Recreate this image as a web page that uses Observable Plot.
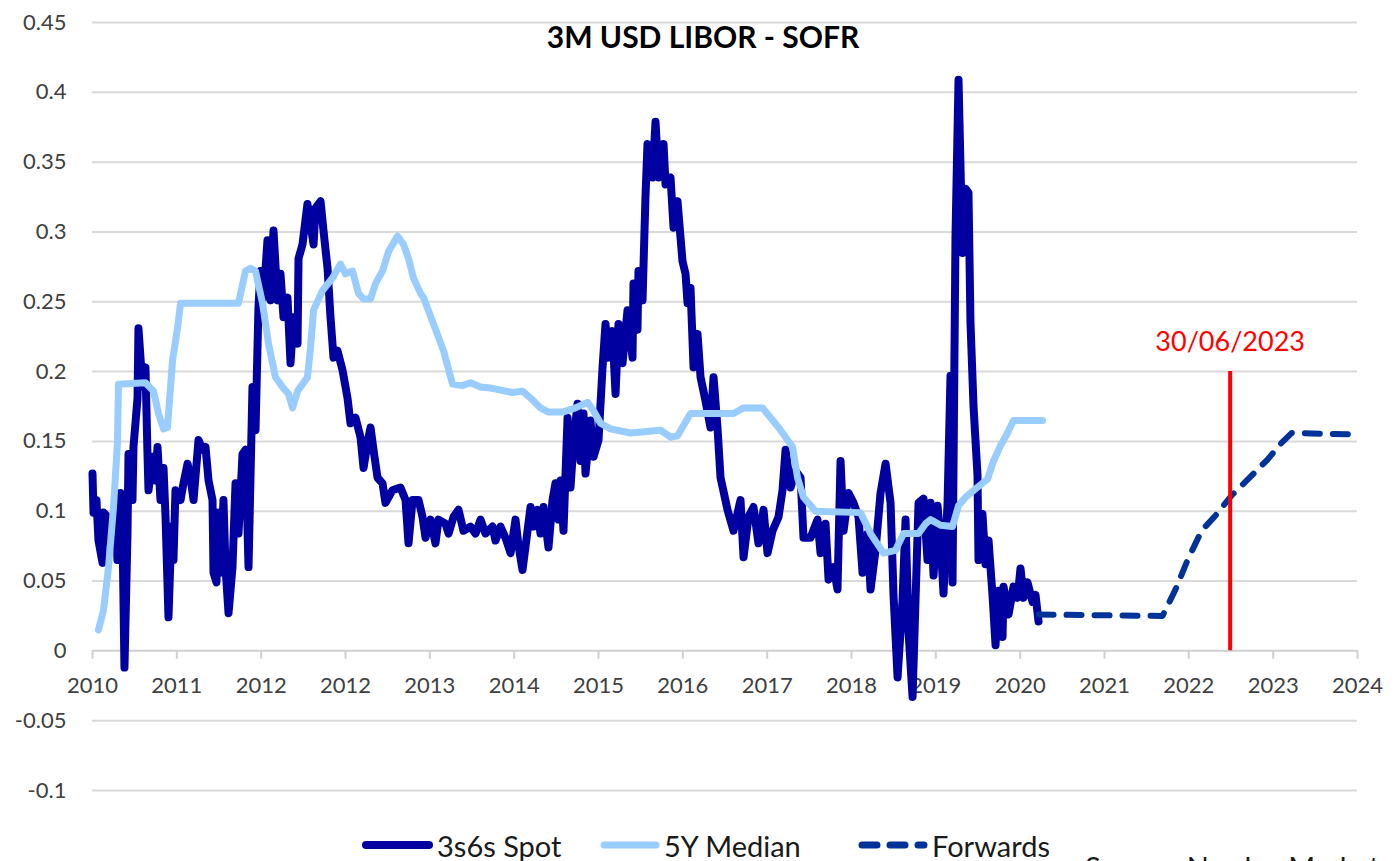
<!DOCTYPE html>
<html><head><meta charset="utf-8">
<script src="https://cdn.jsdelivr.net/npm/d3@7"></script>
<script src="https://cdn.jsdelivr.net/npm/@observablehq/plot@0.6"></script>
<style>
html,body{margin:0;padding:0;background:#fff;overflow:hidden;width:1394px;height:861px;}
#chart svg{display:block}
#legend{position:relative;width:1394px;height:51px;font-family:Lato,"Open Sans",sans-serif;font-size:29px;color:#1a1a1a;}
#legend .item{position:absolute;top:17px;height:36px;display:flex;align-items:center;white-space:nowrap;}
#legend svg{display:block;margin-right:4px}
#legend .src{position:absolute;top:39px;left:1085px;white-space:nowrap;}
</style></head><body>
<div id="chart"></div>
<div id="legend"></div>
<script>
const title = "3M USD LIBOR - SOFR";
const sourceText = "Source: Nordea Markets";
const xTickLabels = ["2010","2011","2012","2012","2013","2014","2015","2016","2017","2018","2019","2020","2021","2022","2023","2024"];
const yTicks = [-0.1,-0.05,0,0.05,0.1,0.15,0.2,0.25,0.3,0.35,0.4,0.45];
const yTickLabels = ["-0.1","-0.05","0","0.05","0.1","0.15","0.2","0.25","0.3","0.35","0.4","0.45"];
const seriesNames = ["3s6s Spot","5Y Median","Forwards"];
const seriesColors = ["#0000a0","#99ccff","#003399"];

// [axis position (0 = first tick label, 15 = last), value]
const spot = [
[0.000,0.127],[0.012,0.099],[0.047,0.108],[0.071,0.079],[0.119,0.063],[0.130,0.099],[0.178,0.096],[0.213,0.077],
[0.273,0.103],[0.296,0.065],[0.332,0.113],[0.356,0.084],[0.379,-0.012],[0.415,0.084],[0.427,0.141],[0.474,0.108],
[0.486,0.146],[0.534,0.181],[0.545,0.231],[0.593,0.189],[0.628,0.203],[0.652,0.141],[0.664,0.115],[0.711,0.139],
[0.747,0.122],[0.771,0.146],[0.806,0.108],[0.842,0.131],[0.866,0.096],[0.901,0.024],[0.937,0.089],[0.960,0.065],
[0.984,0.115],[1.044,0.108],[1.079,0.120],[1.127,0.134],[1.162,0.124],[1.198,0.108],[1.257,0.151],[1.304,0.144],
[1.340,0.146],[1.376,0.122],[1.423,0.108],[1.435,0.056],[1.470,0.049],[1.494,0.099],[1.518,0.056],[1.553,0.108],
[1.577,0.060],[1.613,0.027],[1.660,0.060],[1.696,0.120],[1.731,0.084],[1.779,0.141],[1.814,0.144],[1.850,0.060],
[1.897,0.189],[1.933,0.158],[1.968,0.246],[1.992,0.272],[2.028,0.253],[2.075,0.294],[2.111,0.251],[2.146,0.301],
[2.194,0.251],[2.229,0.270],[2.265,0.239],[2.312,0.253],[2.348,0.206],[2.383,0.239],[2.431,0.220],[2.443,0.281],
[2.490,0.291],[2.549,0.320],[2.585,0.306],[2.621,0.291],[2.644,0.317],[2.704,0.322],[2.739,0.301],[2.787,0.274],
[2.822,0.239],[2.858,0.210],[2.905,0.215],[2.965,0.201],[3.024,0.181],[3.059,0.163],[3.119,0.167],[3.178,0.153],
[3.214,0.131],[3.261,0.149],[3.297,0.160],[3.332,0.144],[3.380,0.124],[3.439,0.120],[3.474,0.106],[3.557,0.115],
[3.652,0.117],[3.712,0.108],[3.747,0.077],[3.795,0.108],[3.866,0.108],[3.913,0.096],[3.949,0.081],[4.008,0.094],
[4.067,0.077],[4.103,0.094],[4.186,0.091],[4.222,0.084],[4.281,0.096],[4.340,0.101],[4.399,0.086],[4.482,0.089],
[4.542,0.084],[4.601,0.094],[4.660,0.084],[4.743,0.089],[4.779,0.079],[4.838,0.089],[4.897,0.081],[4.957,0.070],
[5.016,0.094],[5.052,0.075],[5.099,0.058],[5.135,0.075],[5.194,0.103],[5.229,0.089],[5.277,0.101],[5.312,0.084],
[5.348,0.103],[5.407,0.074],[5.455,0.108],[5.490,0.120],[5.526,0.094],[5.550,0.122],[5.585,0.086],[5.633,0.167],
[5.668,0.117],[5.704,0.149],[5.751,0.177],[5.787,0.136],[5.822,0.170],[5.846,0.127],[5.905,0.165],[5.941,0.139],
[6.000,0.151],[6.048,0.203],[6.083,0.234],[6.119,0.210],[6.166,0.229],[6.202,0.184],[6.237,0.234],[6.285,0.206],
[6.344,0.244],[6.403,0.210],[6.415,0.263],[6.462,0.230],[6.474,0.272],[6.522,0.251],[6.557,0.325],[6.581,0.363],
[6.617,0.358],[6.641,0.339],[6.676,0.379],[6.712,0.339],[6.771,0.363],[6.795,0.334],[6.854,0.339],[6.890,0.303],
[6.937,0.322],[6.996,0.279],[7.032,0.270],[7.056,0.249],[7.091,0.260],[7.127,0.203],[7.174,0.227],[7.210,0.196],
[7.269,0.179],[7.328,0.160],[7.364,0.196],[7.411,0.160],[7.447,0.124],[7.530,0.101],[7.601,0.086],[7.684,0.108],
[7.720,0.067],[7.779,0.096],[7.838,0.103],[7.897,0.077],[7.957,0.101],[8.004,0.070],[8.064,0.086],[8.135,0.096],
[8.182,0.115],[8.218,0.144],[8.277,0.117],[8.336,0.129],[8.396,0.124],[8.431,0.081],[8.514,0.081],[8.597,0.094],
[8.633,0.070],[8.692,0.091],[8.728,0.051],[8.787,0.060],[8.834,0.044],[8.870,0.136],[8.906,0.086],[8.965,0.113],
[9.024,0.106],[9.083,0.096],[9.131,0.056],[9.190,0.084],[9.226,0.044],[9.285,0.072],[9.344,0.113],[9.404,0.134],
[9.463,0.106],[9.499,0.039],[9.546,-0.019],[9.605,0.036],[9.641,0.094],[9.677,0.013],[9.724,-0.033],[9.759,0.036],
[9.795,0.106],[9.854,0.109],[9.901,0.065],[9.937,0.106],[9.973,0.054],[10.020,0.104],[10.056,0.079],[10.091,0.041],
[10.139,0.106],[10.174,0.197],[10.198,0.049],[10.233,0.296],[10.269,0.409],[10.316,0.285],[10.352,0.331],[10.387,0.328],
[10.411,0.235],[10.447,0.175],[10.494,0.126],[10.506,0.065],[10.553,0.098],[10.589,0.062],[10.625,0.079],[10.672,0.040],
[10.708,0.004],[10.743,0.043],[10.791,0.010],[10.803,0.046],[10.862,0.026],[10.921,0.046],[10.969,0.038],[11.004,0.059],
[11.040,0.038],[11.087,0.049],[11.147,0.035],[11.182,0.040],[11.218,0.021]
];
const median = [
[0.071,0.015],[0.130,0.029],[0.190,0.060],[0.249,0.103],[0.296,0.149],[0.308,0.191],[0.628,0.192],[0.723,0.186],
[0.783,0.170],[0.842,0.159],[0.889,0.160],[0.949,0.208],[1.008,0.231],[1.044,0.249],[1.731,0.249],[1.814,0.272],
[1.874,0.274],[1.933,0.272],[2.016,0.249],[2.087,0.220],[2.170,0.196],[2.253,0.189],[2.324,0.184],[2.372,0.174],
[2.431,0.186],[2.549,0.196],[2.585,0.217],[2.621,0.244],[2.727,0.258],[2.846,0.267],[2.941,0.277],[3.000,0.270],
[3.083,0.272],[3.154,0.256],[3.214,0.252],[3.297,0.252],[3.356,0.263],[3.439,0.272],[3.510,0.286],[3.617,0.297],
[3.688,0.291],[3.747,0.281],[3.806,0.267],[3.889,0.256],[3.925,0.253],[4.044,0.234],[4.162,0.215],[4.269,0.191],
[4.387,0.190],[4.482,0.192],[4.601,0.189],[4.743,0.188],[4.897,0.186],[4.980,0.185],[5.099,0.186],[5.194,0.181],
[5.312,0.174],[5.407,0.171],[5.573,0.171],[5.727,0.174],[5.870,0.178],[5.941,0.172],[6.024,0.163],[6.143,0.159],
[6.380,0.156],[6.736,0.158],[6.854,0.153],[6.937,0.154],[7.091,0.170],[7.328,0.170],[7.601,0.170],[7.720,0.174],
[7.945,0.174],[8.040,0.167],[8.135,0.160],[8.241,0.151],[8.301,0.146],[8.360,0.124],[8.431,0.110],[8.573,0.100],
[9.107,0.099],[9.226,0.084],[9.380,0.070],[9.522,0.072],[9.617,0.084],[9.795,0.084],[9.878,0.091],[9.937,0.094],
[10.056,0.090],[10.198,0.089],[10.269,0.104],[10.352,0.110],[10.471,0.116],[10.613,0.123],[10.684,0.136],[10.767,0.147],
[10.850,0.156],[10.921,0.165],[11.265,0.165]
];
const forwards = [
[11.218,0.026],[12.688,0.025],[12.842,0.044],[12.985,0.065],[13.151,0.086],[13.317,0.097],[13.518,0.112],
[13.720,0.124],[13.933,0.137],[14.099,0.149],[14.218,0.156],[15.000,0.155]
];
const marker = [{pos: 13.49, top: 0.2, label: "30/06/2023"}];

const xTicks = xTickLabels.map((_, i) => i);
const tickLen = 0.006;

const chart = Plot.plot({
  width: 1394, height: 810,
  marginLeft: 92, marginRight: 37, marginTop: 22, marginBottom: 20,
  style: {fontFamily: "Lato, 'Open Sans', sans-serif", background: "#fff", overflow: "visible"},
  x: {domain: [0, 15], axis: null},
  y: {domain: [-0.1, 0.45], axis: null},
  marks: [
    Plot.ruleY(yTicks.filter(d => d !== 0), {y: d => d, stroke: "#d9d9d9", strokeWidth: 2}),
    Plot.ruleY([0], {stroke: "#d0d0d0", strokeWidth: 2}),
    Plot.ruleX(xTicks, {x: d => d, y1: 0, y2: -tickLen, stroke: "#d0d0d0", strokeWidth: 2}),
    Plot.axisY(yTicks, {tickSize: 0, tickPadding: 26, fontSize: 22, fill: "#404040", label: null,
      tickFormat: d => yTickLabels[yTicks.indexOf(d)]}),
    Plot.text(xTicks, {x: d => d, y: 0, dy: 35, text: d => xTickLabels[d], fontSize: 22, fill: "#404040"}),
    Plot.line(spot, {x: d => d[0], y: d => d[1], stroke: seriesColors[0], strokeWidth: 8, strokeLinejoin: "round", strokeLinecap: "round"}),
    Plot.line(median, {x: d => d[0], y: d => d[1], stroke: seriesColors[1], strokeWidth: 7, strokeLinejoin: "round", strokeLinecap: "round"}),
    Plot.line(forwards, {x: d => d[0], y: d => d[1], stroke: seriesColors[2], strokeWidth: 6, strokeDasharray: "15,13", strokeLinecap: "round", strokeLinejoin: "round"}),
    Plot.ruleX(marker, {x: "pos", y1: 0, y2: "top", stroke: "#ff0000", strokeWidth: 4}),
    Plot.text(marker, {x: "pos", y: "top", text: "label", dy: -29, fill: "#ff0000", fontSize: 27}),
    Plot.text([title], {frameAnchor: "top", lineAnchor: "middle", dy: 16, dx: -22, text: d => d, fontSize: 30, fontWeight: "bold", fill: "#000"})
  ]
});
document.getElementById("chart").appendChild(chart);

// legend (HTML, below the SVG)
const legend = document.getElementById("legend");
const legendLeft = [362, 600, 858];
const sampleW = [71, 60, 70];
seriesNames.forEach((name, i) => {
  const item = document.createElement("div");
  item.className = "item";
  item.style.left = legendLeft[i] + "px";
  const w = sampleW[i];
  const dash = i === 2 ? ' stroke-dasharray="15,13"' : '';
  const sw = i === 0 ? 8 : 7;
  item.innerHTML = `<svg width="${w}" height="14"><line x1="4" y1="7" x2="${w-4}" y2="7" stroke="${seriesColors[i]}" stroke-width="${sw}" stroke-linecap="round"${dash}/></svg><span>${name}</span>`;
  legend.appendChild(item);
});
const src = document.createElement("div");
src.className = "src";
src.textContent = sourceText;
legend.appendChild(src);
</script></body></html>
